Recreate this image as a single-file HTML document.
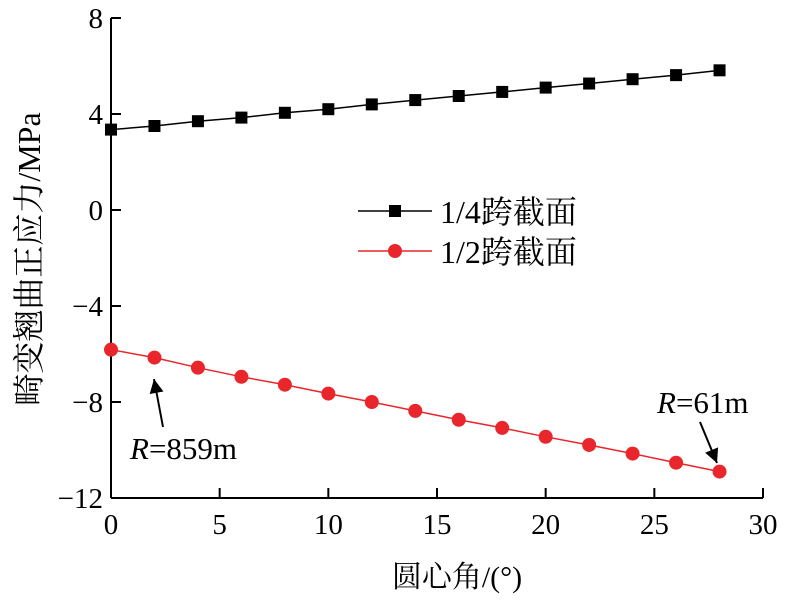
<!DOCTYPE html>
<html><head><meta charset="utf-8"><style>
body{margin:0;background:#fff}
text{font-family:"Liberation Serif","Noto Serif CJK SC",serif;fill:#000}
</style></head><body>
<svg id="chart" width="785" height="597" xmlns="http://www.w3.org/2000/svg">
<defs><marker id="ah" viewBox="0 0 10 10" refX="10" refY="5" markerWidth="16" markerHeight="14" orient="auto-start-reverse" markerUnits="userSpaceOnUse"><path d="M0,0 L10,5 L0,10 z" fill="#000"/></marker></defs>
<g id="plot"></g>
</svg>
<script>
const xTicks=[0,5,10,15,20,25,30];
const yTicks=[-12,-8,-4,0,4,8];
const yTickLabels=["\u221212","\u22128","\u22124","0","4","8"];
const angles=[0,2,4,6,8,10,12,14,16,18,20,22,24,26,28];
const quarter=[3.35,3.5,3.7,3.85,4.05,4.2,4.4,4.58,4.75,4.92,5.1,5.27,5.45,5.62,5.82];
const half=[-5.82,-6.15,-6.57,-6.95,-7.28,-7.65,-8.0,-8.37,-8.74,-9.08,-9.45,-9.79,-10.15,-10.53,-10.9];
const L=111,R=763,T=18,B=498;
const xs=v=>L+(v-0)/30*(R-L);
const ys=v=>B-(v+12)/20*(B-T);
const NS="http://www.w3.org/2000/svg";
const g=document.getElementById('plot');
function mk(tag,at,txt){const e=document.createElementNS(NS,tag);for(const k in at)e.setAttribute(k,at[k]);if(txt!==undefined)e.textContent=txt;g.appendChild(e);return e;}
let e;
e=mk('line',{x1:L,y1:B,x2:R,y2:B,stroke:'#000','stroke-width':2});


e=mk('line',{x1:L,y1:T,x2:L,y2:B,stroke:'#000','stroke-width':2});


xTicks.forEach(v=>{
 e=mk('line',{x1:xs(v),y1:B,x2:xs(v),y2:B-10,stroke:'#000','stroke-width':2});
 
 
 e=mk('text',{x:xs(v),y:B+36,'text-anchor':'middle','font-size':29},String(v));
 
 
});
yTicks.forEach((v,i)=>{
 e=mk('line',{x1:L,y1:ys(v),x2:L+10,y2:ys(v),stroke:'#000','stroke-width':2});
 
 
 e=mk('text',{x:L-8,y:ys(v)+10,'text-anchor':'end','font-size':29},yTickLabels[i]);
 
 
});
e=mk('text',{x:457,y:587,'text-anchor':'middle','font-size':30},'圆心角/(°)');


e=mk('text',{x:0,y:0,'text-anchor':'middle','font-size':32,transform:'translate(40,259) rotate(-90)'},'畸变翘曲正应力/MPa');


function series(vals,color,shape,name){
 e=mk('polyline',{points:angles.map((a,i)=>xs(a)+','+ys(vals[i])).join(' '),fill:'none',stroke:color,'stroke-width':1.5});
 
 
 angles.forEach((a,i)=>{
  if(shape==='sq') e=mk('rect',{x:xs(a)-6,y:ys(vals[i])-6,width:12,height:12,fill:color});
  else e=mk('circle',{cx:xs(a),cy:ys(vals[i]),r:7,fill:color});
  
  
 });
}
series(quarter,'#000','sq','quarter-span');
series(half,'#e8262b','ci','half-span');
e=mk('line',{x1:358,y1:211,x2:432,y2:211,stroke:'#000','stroke-width':1.5});


e=mk('rect',{x:389,y:205,width:12,height:12,fill:'#000'});


e=mk('text',{x:440,y:223,'font-size':32},'1/4跨截面');


e=mk('line',{x1:358,y1:251,x2:432,y2:251,stroke:'#e8262b','stroke-width':1.5});


e=mk('circle',{cx:395,cy:251,r:7,fill:'#e8262b'});


e=mk('text',{x:440,y:263,'font-size':32},'1/2跨截面');


e=mk('line',{x1:163,y1:427,x2:154,y2:379,stroke:'#000','stroke-width':2,'marker-end':'url(#ah)'});


e=mk('text',{x:130,y:459,'font-size':31},'');
e.innerHTML='<tspan font-style="italic">R</tspan>=859m';


e=mk('line',{x1:700,y1:422,x2:717,y2:463,stroke:'#000','stroke-width':2,'marker-end':'url(#ah)'});


e=mk('text',{x:657,y:413,'font-size':31},'');
e.innerHTML='<tspan font-style="italic">R</tspan>=61m';


</script>
</body></html>
